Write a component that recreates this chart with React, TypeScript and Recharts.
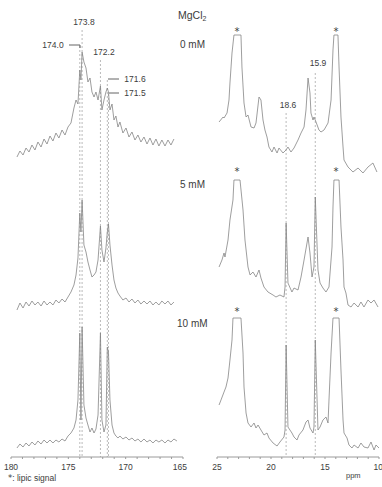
import { LineChart, Line, XAxis, YAxis, ReferenceLine } from 'recharts';

// [ppm, intensity], carbonyl region
const carbonyl0mM: [number, number][] = [
  [179.48, 3], [179.22, 9], [178.95, 5], [178.69, 12], [178.43, 8], [178.17, 15], [177.91, 10],
  [177.65, 18], [177.38, 13], [177.12, 21], [176.86, 16], [176.6, 24], [176.34, 19], [176.08, 27],
  [175.82, 22], [175.55, 30], [175.29, 25], [175.03, 33], [174.77, 37], [174.51, 52], [174.33, 60],
  [174.16, 56], [174.0, 90], [173.9, 80], [173.8, 108], [173.64, 98], [173.46, 92], [173.29, 78],
  [173.11, 82], [172.94, 68], [172.76, 63], [172.59, 68], [172.41, 60], [172.2, 74], [172.07, 50],
  [171.89, 60], [171.72, 68], [171.6, 72], [171.5, 68], [171.37, 50], [171.19, 56], [171.02, 40],
  [170.85, 44], [170.67, 33], [170.5, 38], [170.24, 27], [169.97, 32], [169.71, 23], [169.45, 28],
  [169.19, 20], [168.93, 25], [168.67, 18], [168.4, 23], [168.14, 16], [167.88, 22], [167.62, 15],
  [167.36, 21], [167.1, 14], [166.84, 20], [166.57, 14], [166.31, 20], [166.05, 15], [165.79, 21],
];
const carbonyl5mM: [number, number][] = [
  [179.48, -5], [179.22, 2], [178.95, -3], [178.69, 3], [178.43, -1], [178.17, 4], [177.91, 0],
  [177.65, 3], [177.38, -1], [177.12, 4], [176.86, 0], [176.6, 3], [176.34, 0], [176.08, 5],
  [175.82, 2], [175.55, 6], [175.29, 3], [175.03, 8], [174.77, 13], [174.51, 20], [174.33, 30],
  [174.16, 47], [174.0, 92], [173.9, 73], [173.8, 105], [173.64, 60], [173.46, 53], [173.29, 43],
  [173.11, 35], [172.94, 28], [172.76, 30], [172.59, 33], [172.41, 45], [172.2, 79], [172.07, 55],
  [171.89, 43], [171.72, 57], [171.6, 73], [171.5, 81], [171.37, 60], [171.19, 40], [171.02, 25],
  [170.85, 17], [170.67, 12], [170.5, 9], [170.24, 5], [169.97, 7], [169.71, 3], [169.45, 6],
  [169.19, 2], [168.93, 5], [168.67, 1], [168.4, 4], [168.14, 1], [167.88, 4], [167.62, 0],
  [167.36, 3], [167.1, 0], [166.84, 4], [166.57, 1], [166.31, 4], [166.05, 0], [165.79, 3],
];
const carbonyl10mM: [number, number][] = [
  [179.48, -3], [179.22, 1], [178.95, -2], [178.69, 2], [178.43, -1], [178.17, 3], [177.91, 0],
  [177.65, 4], [177.38, 1], [177.12, 5], [176.86, 2], [176.6, 5], [176.34, 2], [176.08, 5],
  [175.82, 3], [175.55, 6], [175.29, 4], [175.03, 9], [174.77, 12], [174.51, 17], [174.33, 25],
  [174.16, 45], [174.0, 112], [173.9, 25], [173.8, 118], [173.64, 40], [173.46, 27], [173.29, 20],
  [173.11, 13], [172.94, 17], [172.76, 12], [172.59, 16], [172.41, 30], [172.2, 112], [172.07, 25],
  [171.89, 13], [171.72, 20], [171.6, 98], [171.5, 93], [171.37, 45], [171.19, 20], [171.02, 12],
  [170.85, 9], [170.67, 7], [170.5, 9], [170.24, 6], [169.97, 8], [169.71, 5], [169.45, 7],
  [169.19, 4], [168.93, 6], [168.67, 3], [168.4, 6], [168.14, 3], [167.88, 5], [167.62, 2],
  [167.36, 5], [167.1, 3], [166.84, 5], [166.57, 2], [166.31, 5], [166.05, 3], [165.79, 6], [165.53, 4],
];

// [ppm, intensity], aliphatic region (lipid peaks at ~23 and ~14 ppm are cut off flat)
const aliphatic0mM: [number, number][] = [
  [24.81, 38], [24.44, 43], [24.35, 42], [24.07, 47], [23.89, 60], [23.8, 77], [23.61, 107],
  [23.43, 125], [22.78, 125], [22.69, 93], [22.5, 57], [22.31, 43], [22.13, 45], [21.85, 33],
  [21.57, 32], [21.39, 37], [21.11, 63], [20.93, 60], [20.74, 40], [20.56, 30], [20.37, 23],
  [20.19, 13], [19.91, 8], [19.72, 13], [19.44, 7], [19.26, 12], [18.89, 7], [18.61, 10],
  [18.43, 13], [18.15, 8], [17.87, 12], [17.5, 20], [17.22, 27], [16.94, 33], [16.76, 50],
  [16.57, 82], [16.39, 67], [16.3, 47], [16.11, 40], [16.02, 43], [15.83, 38], [15.56, 30],
  [15.37, 28], [15.09, 30], [14.72, 37], [14.44, 60], [14.26, 110], [14.17, 125], [13.8, 125],
  [13.7, 93], [13.52, 43], [13.33, 13], [13.24, 0], [12.87, -7], [12.41, -12], [11.94, -8],
  [11.48, -13], [11.02, -7], [10.56, -3], [10.19, -12],
];
const aliphatic5mM: [number, number][] = [
  [24.81, 38], [24.54, 45], [24.35, 52], [24.26, 48], [23.98, 65], [23.8, 85], [23.52, 105],
  [23.43, 125], [22.87, 125], [22.59, 95], [22.41, 65], [22.13, 38], [21.94, 30], [21.67, 33],
  [21.39, 28], [21.11, 35], [20.93, 27], [20.65, 18], [20.28, 13], [19.81, 10], [19.54, 8],
  [19.17, 10], [18.8, 8], [18.7, 18], [18.6, 82], [18.43, 22], [18.06, 13], [17.87, 17],
  [17.5, 15], [17.22, 28], [16.94, 45], [16.57, 68], [16.39, 52], [16.2, 28], [16.02, 38],
  [15.9, 108], [15.65, 35], [15.46, 22], [15.19, 17], [14.91, 13], [14.63, 18], [14.35, 58],
  [14.26, 98], [14.17, 125], [13.7, 125], [13.52, 78], [13.33, 45], [13.24, 18], [13.06, 12],
  [12.87, 0], [12.59, -2], [12.31, 2], [11.94, -2], [11.67, 3], [11.39, -2], [11.02, 5],
  [10.74, 2], [10.46, 5], [10.09, -2],
];
const aliphatic10mM: [number, number][] = [
  [24.81, 45], [24.63, 50], [24.35, 58], [24.17, 63], [23.98, 72], [23.8, 90], [23.61, 110],
  [23.52, 132], [22.78, 132], [22.59, 97], [22.5, 63], [22.31, 37], [22.13, 27], [21.85, 23],
  [21.57, 27], [21.39, 22], [21.2, 25], [20.93, 20], [20.65, 15], [20.37, 17], [20.19, 12],
  [19.81, 7], [19.44, 4], [19.17, 8], [18.8, 13], [18.7, 20], [18.6, 105], [18.43, 23],
  [18.06, 17], [17.87, 13], [17.59, 10], [17.41, 15], [17.04, 20], [16.76, 28], [16.57, 30],
  [16.39, 22], [16.11, 17], [16.02, 23], [15.9, 110], [15.65, 20], [15.46, 23], [15.19, 30],
  [14.91, 33], [14.72, 27], [14.63, 50], [14.44, 97], [14.26, 132], [13.7, 132], [13.52, 80],
  [13.33, 30], [13.24, 17], [12.96, 12], [12.78, 5], [12.5, 2], [12.31, 5], [11.94, 2],
  [11.67, 7], [11.39, 3], [11.02, 2], [10.74, 8], [10.46, 0], [10.28, 5], [10.0, 2],
];

const carbonylPeaks = [174.0, 173.8, 172.2, 171.6, 171.5];
const aliphaticPeaks = [18.6, 15.9];
const carbonylTicks = [180, 179, 178, 177, 176, 175, 174, 173, 172, 171, 170, 169, 168, 167, 166, 165];
const aliphaticTicks = [25, 24, 23, 22, 21, 20, 19, 18, 17, 16, 15, 14, 13, 12, 11, 10];
const concentrations = ['0 mM', '5 mM', '10 mM'];

const W = 191;
const H = 487;
const AXIS_H = 30;
const PLOT_H = H - AXIS_H;
const TRACE = '#858585';
const INK = '#3c3c3c';
const FONT = '"Liberation Sans", Arial, sans-serif';
const STAR_FONT = '"DejaVu Sans", sans-serif';

const toRows = (pairs: [number, number][]) => pairs.map(([ppm, i]) => ({ ppm, i }));

// only every 5 ppm gets a number; the last one is pulled inside the page edge
function PpmTick(props: any) {
  const { x, y, payload, index, visibleTicksCount } = props;
  if (payload.value % 5 !== 0) return null;
  const last = index === visibleTicksCount - 1;
  return (
    <text
      x={x}
      y={y}
      dy={8}
      textAnchor={last ? 'end' : 'middle'}
      dx={last ? 4 : 0}
      fontSize={8.5}
      fill={INK}
      fontFamily={FONT}
    >
      {payload.value}
    </text>
  );
}

type PanelProps = {
  spectra: [number, number][][];
  baselines: number[];
  domain: [number, number];
  ticks: number[];
  peaks: number[];
  peakTops: number[];
  margin: { left: number; right: number };
};

function Panel({ spectra, baselines, domain, ticks, peaks, peakTops, margin }: PanelProps) {
  return (
    <LineChart width={W} height={H} margin={{ top: 0, bottom: 0, left: margin.left, right: margin.right }}>
      <XAxis
        type="number"
        dataKey="ppm"
        domain={domain}
        reversed
        allowDataOverflow
        ticks={ticks}
        interval={0}
        height={AXIS_H}
        tickSize={2}
        tickMargin={3}
        stroke="#9a9a9a"
        tick={<PpmTick />}
      />
      <YAxis yAxisId="px" hide domain={[0, PLOT_H]} reversed allowDataOverflow />
      {baselines.map((b, k) => (
        <YAxis key={k} yAxisId={`s${k}`} hide domain={[b - PLOT_H, b]} allowDataOverflow />
      ))}
      {peaks.map((p, k) => (
        <ReferenceLine
          key={p}
          yAxisId="px"
          segment={[{ x: p, y: peakTops[k] }, { x: p, y: PLOT_H }]}
          stroke="#a8a8a8"
          strokeWidth={0.8}
          strokeDasharray="2 2"
        />
      ))}
      {spectra.map((s, k) => (
        <Line
          key={k}
          yAxisId={`s${k}`}
          data={toRows(s)}
          dataKey="i"
          type="linear"
          dot={false}
          stroke={TRACE}
          strokeWidth={0.8}
          isAnimationActive={false}
        />
      ))}
    </LineChart>
  );
}

export default function App() {
  const labelStyle = { fontFamily: FONT, fill: INK } as const;
  return (
    <div style={{ position: 'absolute', left: 0, top: 0, width: 382, height: H, background: '#fff' }}>
      <div style={{ position: 'absolute', left: 0, top: 0 }}>
        <Panel
          spectra={[carbonyl0mM, carbonyl5mM, carbonyl10mM]}
          baselines={[160, 305, 445]}
          domain={[165, 180]}
          ticks={carbonylTicks}
          peaks={carbonylPeaks}
          peakTops={[46, 30, 60, 80, 94]}
          margin={{ left: 11, right: 8 }}
        />
      </div>
      <div style={{ position: 'absolute', left: W, top: 0 }}>
        <Panel
          spectra={[aliphatic0mM, aliphatic5mM, aliphatic10mM]}
          baselines={[160, 305, 450]}
          domain={[10, 25]}
          ticks={aliphaticTicks}
          peaks={aliphaticPeaks}
          peakTops={[113, 73]}
          margin={{ left: 26, right: 3 }}
        />
      </div>
      <svg width={382} height={H} style={{ position: 'absolute', left: 0, top: 0, pointerEvents: 'none' }}>
        <g fontSize={8.5} {...labelStyle} textAnchor="middle">
          <text x={84} y={25}>{carbonylPeaks[1].toFixed(1)}</text>
          <text x={53} y={48}>{carbonylPeaks[0].toFixed(1)}</text>
          <text x={104} y={55}>{carbonylPeaks[2].toFixed(1)}</text>
          <text x={135} y={82}>{carbonylPeaks[3].toFixed(1)}</text>
          <text x={135} y={96}>{carbonylPeaks[4].toFixed(1)}</text>
          <text x={288} y={108}>{aliphaticPeaks[0].toFixed(1)}</text>
          <text x={318} y={66}>{aliphaticPeaks[1].toFixed(1)}</text>
        </g>
        <g stroke={INK} strokeWidth={0.8} fill="none">
          <polyline points="69,45 80,45 80,48" />
          <line x1={108} y1={79} x2={119} y2={79} />
          <line x1={109} y1={93} x2={119} y2={93} />
        </g>
        <text x={178} y={19} fontSize={10.5} {...labelStyle}>
          MgCl<tspan fontSize={7} dy={2}>2</tspan>
        </text>
        {concentrations.map((c, k) => (
          <text key={c} x={[180, 180, 177][k]} y={[48, 188, 327][k]} fontSize={10} {...labelStyle}>
            {c}
          </text>
        ))}
        <g fontSize={10} fontFamily={STAR_FONT} fill={INK} textAnchor="middle">
          {[35, 175, 315].map((y) => (
            <g key={y}>
              <text x={237} y={y}>*</text>
              <text x={336} y={y}>*</text>
            </g>
          ))}
        </g>
        <text x={8} y={481} fontSize={8.5} {...labelStyle}>
          <tspan fontFamily={STAR_FONT}>*</tspan>: lipic signal
        </text>
        <text x={346} y={478} fontSize={7.5} {...labelStyle}>ppm</text>
      </svg>
    </div>
  );
}
